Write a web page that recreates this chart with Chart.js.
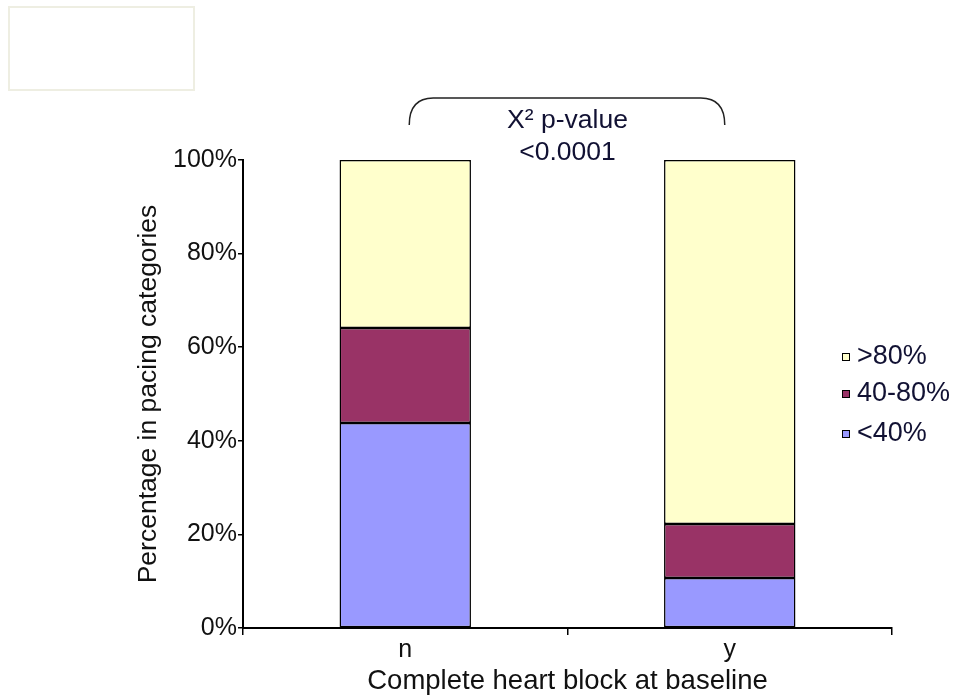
<!DOCTYPE html>
<html>
<head>
<meta charset="utf-8">
<script src="https://cdn.jsdelivr.net/npm/chart.js@4/dist/chart.umd.min.js"></script>
<style>
html,body{margin:0;padding:0;background:#fff;}
#wrap{width:956px;height:698px;position:relative;}
</style>
</head>
<body>
<div id="wrap"><canvas id="c" width="956" height="698"></canvas></div>
<script>
const categories = ['n', 'y'];
const seriesLabels = ['<40%', '40-80%', '>80%'];
const below40 = [43.8, 10.7];
const mid40to80 = [20.3, 11.5];
const above80 = [35.9, 77.8];
const yTicks = [0, 20, 40, 60, 80, 100];
const yTitle = 'Percentage in pacing categories';
const xTitle = 'Complete heart block at baseline';
const noteLines = ['X\u00B2 p-value', '<0.0001'];

const colors = ['#9999FF', '#993366', '#FFFFCC'];
const FONT = '"Liberation Sans", Arial, sans-serif';

const overlay = {
  id: 'overlay',
  afterDraw(chart) {
    const ctx = chart.ctx;
    const x = chart.scales.x;
    const top = chart.chartArea.top;
    ctx.save();
    // empty top-left box
    ctx.strokeStyle = '#EEEEE2';
    ctx.lineWidth = 2;
    ctx.strokeRect(9, 7, 185, 83);
    // brace
    const x0 = x.getPixelForValue(0) + 4;
    const x1 = x.getPixelForValue(1) - 5;
    const yb = top - 35, yt = top - 62, r = 24;
    ctx.strokeStyle = '#222';
    ctx.lineWidth = 1.5;
    ctx.beginPath();
    ctx.moveTo(x0, yb);
    ctx.quadraticCurveTo(x0, yt, x0 + r, yt);
    ctx.lineTo(x1 - r, yt);
    ctx.quadraticCurveTo(x1, yt, x1, yb);
    ctx.stroke();
    // note text
    const cx = (x.getPixelForValue(0) + x.getPixelForValue(1)) / 2;
    ctx.fillStyle = '#111133';
    ctx.font = '26.5px ' + FONT;
    ctx.textAlign = 'center';
    ctx.textBaseline = 'middle';
    ctx.fillText(noteLines[0], cx, top - 39);
    ctx.fillText(noteLines[1], cx, top - 7);
    // legend (reverse order)
    const ds = chart.data.datasets;
    const ly = [357, 394, 434];
    ctx.textAlign = 'left';
    ctx.font = '27px ' + FONT;
    for (let i = 0; i < ds.length; i++) {
      const d = ds[ds.length - 1 - i];
      const yy = ly[i];
      ctx.fillStyle = d.backgroundColor;
      ctx.fillRect(842, yy - 4, 8, 8);
      ctx.strokeStyle = '#000';
      ctx.lineWidth = 1;
      ctx.strokeRect(842.5, yy - 3.5, 7, 7);
      ctx.fillStyle = '#111133';
      ctx.fillText(d.label, 857, yy);
    }
    ctx.restore();
  }
};

new Chart(document.getElementById('c'), {
  type: 'bar',
  data: {
    labels: categories,
    datasets: [
      { label: seriesLabels[0], data: below40, backgroundColor: colors[0] },
      { label: seriesLabels[1], data: mid40to80, backgroundColor: colors[1] },
      { label: seriesLabels[2], data: above80, backgroundColor: colors[2] }
    ].map(d => Object.assign(d, { borderColor: '#000', borderWidth: 1.5, borderSkipped: false, categoryPercentage: 1, barPercentage: 0.405 }))
  },
  options: {
    responsive: false,
    animation: false,
    devicePixelRatio: 1,
    layout: { padding: { left: 130, top: 160, right: 64, bottom: 0 } },
    plugins: { legend: { display: false }, tooltip: { enabled: false } },
    scales: {
      x: {
        stacked: true,
        afterFit: s => { s.height = 70; },
        grid: { offset: true, drawOnChartArea: false, drawTicks: true, tickLength: 7, color: '#000', lineWidth: 1.5 },
        border: { color: '#000', width: 2 },
        ticks: { color: '#111', font: { family: FONT, size: 25 }, padding: 0 },
        title: { display: true, text: xTitle, color: '#111', font: { family: FONT, size: 27.5 }, padding: { top: 0, bottom: 0 } }
      },
      y: {
        stacked: true,
        min: 0, max: 100,
        afterFit: s => { s.width = 243 - 130; },
        afterBuildTicks: s => { s.ticks = yTicks.map(v => ({ value: v })); },
        grid: { drawOnChartArea: false, drawTicks: true, tickLength: 5, color: '#000', lineWidth: 1.5 },
        border: { color: '#000', width: 2 },
        ticks: { color: '#111', font: { family: FONT, size: 25 }, padding: 1, callback: v => v + '%' },
        title: { display: true, text: yTitle, color: '#111', font: { family: FONT, size: 26.5 }, padding: { top: 3, bottom: 0 } }
      }
    }
  },
  plugins: [overlay]
});
</script>
</body>
</html>
